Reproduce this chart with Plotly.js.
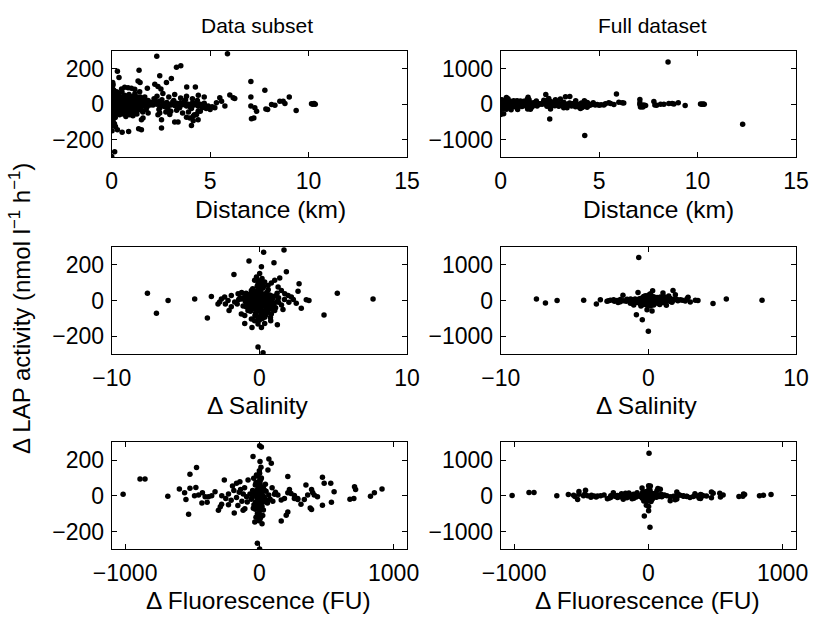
<!DOCTYPE html>
<html><head><meta charset="utf-8">
<script src="https://cdn.plot.ly/plotly-3.0.1.min.js"></script>
<style>html,body{margin:0;padding:0;background:#fff}#chart{width:813px;height:617px}</style>
</head><body><div id="chart"></div>
<script>
// [distance km, ΔLAP] - data subset
const distSubset = [
[2.29,270],[5.88,284],[3.29,208],[3.51,217],[0.29,185],[1.39,192],[2.44,160],[3.03,145],[2.78,122],[0.05,122],[0.37,150],[7.07,128],[7.78,78],[4.25,97],[3.81,97],[2.19,112],[1.81,90],[1.34,131],[1.44,122],[0.83,93],[1.0,90],[1.17,84],[0.5,85],[0.66,95],
[9.02,40],[8.54,17],[8.71,17],[8.8,4],[9.37,-36],[8.12,-2],[8.29,-6],[7.83,-27],[7.92,-30],[7.27,-21],[7.36,-40],[7.07,-11],[7.1,-82],[7.22,-78],[7.07,40],[6.17,36],[6.25,32],[6.0,51],[5.75,-11],[5.49,36],[5.58,17],[5.32,8],[5.24,-21],[10.15,2],[10.22,-1],[10.28,3],[10.34,0],
[4.14,-69],[3.97,-78],[3.8,-74],[4.31,-59],[4.39,-40],[4.05,-120],[4.14,-93],[4.39,-88],[3.37,-101],[3.2,-101],[2.53,-135],[2.53,-88],[2.44,-50],[2.95,-59],[1.85,-50],[1.51,-88],[1.59,-78],[1.51,-145],[1.37,-139],[0.86,-154],[0.53,-158],[0.19,-126],[0.29,-145],[0.05,-88],[0.15,-269],[0.0,-295],
[0.00,60],[0.05,30],[0.10,-20],[0.02,0],[0.08,-50],[0.12,45],[0.15,10],[0.20,-35],[0.25,70],[0.30,-10],[0.35,25],[0.40,-60],[0.45,40],[0.50,-5],[0.55,-30],[0.60,15],[0.65,50],[0.70,-20],[0.75,5],[0.80,-45],[0.85,30],[0.90,-10],[0.95,20],[1.00,-30],[1.05,10],[1.10,45],[1.15,-15],[1.20,25],[1.25,-40],[1.30,0],[1.35,35],[1.40,-25],[1.45,15],[1.50,-5],[1.55,20],[1.60,-10],[1.70,5],[1.80,-15],[1.90,10],
[0.03,100],[0.07,-100],[0.10,80],[0.18,-75],[0.22,-5],[0.28,15],[0.33,-40],[0.38,60],[0.42,-15],[0.48,5],[0.52,70],[0.58,-55],[0.62,-25],[0.68,35],[0.72,-70],[0.78,20],[0.82,-5],[0.88,55],[0.92,-60],[0.98,40],[1.02,-10],[1.08,-65],[1.12,15],[1.18,60],[1.22,-5],[1.28,-55],[1.32,40],[1.38,-30],[1.42,70],[1.48,-15],[1.52,30],[1.58,-45],[0.01,-30],[0.04,20],[0.06,-10],[0.09,5],[0.11,-60],[0.13,30],[0.16,-25],[0.00,-120],[0.02,-150],[0.05,-105],[0.14,-110],
[0.02,45],[0.04,-45],[0.06,75],[0.08,-70],[0.1,10],[0.12,-15],[0.17,55],[0.21,-55],[0.24,35],[0.27,-25],[0.31,50],[0.34,-5],[0.39,-35],[0.43,20],[0.47,-50],[0.51,30],[0.56,10],[0.61,-40],[0.64,-5],[0.69,15],[0.73,45],[0.77,-30],[0.81,10],[0.86,-20],[0.91,35],[0.96,-40],[1.01,25],[1.06,-20],[1.11,-45],[1.16,5],[1.21,-25],[1.26,15],[1.31,-15],[1.36,5],[1.41,-5],[1.46,40],[1.51,-35],[1.56,5],[0.0,-60],[0.03,-80],[0.0,20],[0.01,85],[0.07,110],[0.0,-20],
[1.65,25],[1.75,-30],[1.85,20],[1.95,-5],[1.68,40],
[2.0,10],[2.1,-5],[2.2,20],[2.3,0],[2.4,15],[2.5,-10],[2.6,5],[2.7,-15],[2.8,10],[2.9,0],[3.0,-5],[3.1,12],[3.2,-8],[3.3,5],[3.4,-12],[3.5,8],[3.6,-3],[3.7,15],[3.8,-10],[3.9,0],[4.0,-18],[4.1,6],[4.2,-5],[4.3,10],[4.4,-12],[4.5,0],[4.6,-20],[4.7,5],[4.8,-25],[4.9,-10],[5.0,-30],[5.1,-15],
[2.3,45],[2.6,60],[2.9,40],[3.2,55],[3.5,35],[3.8,45],[4.1,30],[4.4,50],[4.7,40],[3.0,-40],[3.3,-35],[3.6,-50],[3.9,-45],[4.2,-60],[4.5,-40],[2.4,-30],[2.75,-45],
[2.15,30],[2.45,-20],[2.55,25],[2.85,-25],[3.15,20],[3.45,-20],[3.75,25],[4.05,-25],[4.35,20],[4.65,-5],[2.35,-60],[2.5,85],[2.35,100]
];
// extra points only in the full dataset
const distExtra = [[8.5,1190],[2.49,-420],[4.27,-888],[12.29,-570]];

// [Δ salinity, ΔLAP] - data subset
const salSubset = [
[-7.58,41],[-6.97,-71],[-6.18,0],[-4.38,9],[-3.25,23],[-3.52,-98],[-1.72,145],[-0.70,220],[0.29,269],[1.67,282],[0.14,188],[0.99,210],[1.83,160],[1.38,126],[2.69,94],[2.62,51],[3.18,4],[3.36,0],[2.84,-43],[4.38,-81],[5.28,41],[7.70,9],[-0.09,-259],[0.25,-291],[-0.5,-150],[-0.99,-128],[0.14,-150],[1.22,-135],[0.77,-113],[-2.05,-56],[-2.69,-9],
[-2.8,-19],[-2.57,9],[-2.35,19],[-2.12,0],[-1.9,28],[-1.67,-9],[-1.44,38],[-1.22,9],[-0.99,23],[-0.77,0],[-0.54,56],[-0.32,113],[-0.2,131],[-0.09,94],[0.02,150],[0.18,122],[0.36,103],[0.59,84],[0.81,98],[1.04,113],[1.27,75],[1.49,56],[1.72,38],[1.95,28],[2.17,19],[2.5,-15],
[-1.22,-75],[-0.99,-84],[-0.77,-56],[-0.54,-103],[-0.32,-113],[-0.09,-131],[0.14,-84],[0.36,-94],[0.59,-66],[0.81,-75],[1.04,-56],[0.36,-128],[-0.32,-47],[0.02,-56],
[-1.5,-20],[-1.3,15],[-1.1,-30],[-0.9,40],[-0.8,-10],[-0.7,25],[-0.6,-40],[-0.5,10],[-0.4,-20],[-0.3,35],[-0.2,-5],[-0.1,60],[0,-25],[0.05,15],[0.1,-45],[0.15,40],[0.2,-10],[0.25,70],[0.3,-60],[0.35,20],[0.4,-30],[0.5,45],[0.6,-15],[0.7,30],[0.8,-35],[0.9,10],[1.0,-20],[1.1,25],[1.2,-5],[1.3,15],[1.5,-25],[1.7,5],
[-0.15,80],[0.05,-90],[-0.25,-70],[0.1,90],[0.45,-80],[-0.45,65],[0.2,-100],[-0.05,110],[0.0,0],[0.12,5],[-0.08,-15],[0.3,10],[-0.35,0],[0.6,60],[-0.6,-60],[0.9,-50],[-0.9,-35],[1.2,40],[-1.2,45],[2.0,-10],[2.3,5],[-2.3,-20],[-1.9,-35],[1.6,-50],[0.75,-95],
[-0.15,-40],[0.22,30],[-0.05,45],[0.08,-65],[0.42,5],[-0.28,20],[0.65,-5],[-0.65,5],[0.0,70],[0.18,-30],
[-0.95,-5],[-0.85,15],[-0.75,-25],[-0.65,35],[-0.55,-15],[-0.45,25],[-0.35,-45],[-0.25,15],[-0.15,-20],[-0.05,30],[0.05,-40],[0.15,-5],[0.25,25],[0.35,-15],[0.45,35],[0.55,-35],[0.65,20],[0.75,-10],[0.85,25],[0.95,-15],[-0.5,-30],[-0.2,50],[0.1,60],[0.4,-55],[-0.4,45],[0.2,-75],[-0.1,-90],[0.05,105],[0.3,80],[-0.3,-85],[0.0,-110],[-0.6,20],[0.7,-45],[1.1,-40],[-1.0,10],[1.3,-10],[-1.4,5],[0.5,10],[-0.1,10],[0.25,-25]
];
const salExtra = [[-0.65,1200],[-0.81,-400],[-0.41,-540],[0.0,-860]];

// [Δ fluorescence FU, ΔLAP] - data subset
const fluSubset = [
[-1015,8],[-889,94],[-852,94],[-682,-2],[-596,38],[-557,17],[-547,-21],[-517,121],[-468,159],[-517,42],[-527,-104],[-473,47],[-483,0],[-453,4],[-424,17],[-404,-6],[-389,-36],[-428,-40],[-330,23],[-355,0],[-379,-6],[-261,89],[-305,-81],[-291,-62],[-281,-47],[-187,-96],[-170,70],[-145,79],[-121,-81],[-108,-72],[-84,89],[-47,221],[-42,98],[-22,117],[2,281],[15,274],[5,192],[71,206],[89,183],[64,145],[2,126],[20,-157],[-34,-147],[-15,-266],[2,-298],
[163,-142],[212,108],[200,-109],[212,-91],[224,36],[236,13],[261,-15],[286,-21],[310,-47],[347,60],[389,36],[397,19],[379,-68],[389,-77],[470,104],[483,70],[532,70],[470,-53],[557,23],[537,-36],[675,-19],[704,-15],[709,51],[717,36],[828,-2],[857,17],[914,38],[409,4],[433,-6],[360,4],[335,-21],[286,-15],[261,2],[212,17],[187,-15],[163,-24],[138,4],[113,8],
[-280,0],[-250,-15],[-230,10],[-210,-25],[-190,30],[-170,-10],[-150,20],[-130,-30],[-110,45],[-95,-5],[-200,55],[-230,-50],[-160,-55],[-140,35],[-120,10],
[-60,-20],[-50,30],[-40,-50],[-30,60],[-20,-10],[-10,40],[0,-30],[10,15],[20,-60],[30,50],[40,-15],[50,25],[60,-40],[70,5],[80,-20],[-70,10],[-5,80],[5,-80],[-15,-100],[15,100],[25,-110],[-25,-120],[0,0],[8,-5],[-8,10],[12,160],[-3,-140],[30,-35],[-35,20],[45,65],[-45,-70],[100,-30],[120,20],[-90,-35],[95,45],
[-12,-60],[18,-25],[-28,-35],[6,55],[-18,25],[22,35],[0,-75],[-6,-45],[10,-120],[35,-5],
[-20,30],[-10,-20],[0,50],[10,-40],[20,20],[-5,-60],[5,70],[-15,0],[15,-15],[0,-100],[-10,110],[10,90],[-5,-120],[5,-130],[0,140],[-30,-75],[30,-80],[-25,75],[25,0],[-40,5],[40,30],[-55,-10],[55,-25],[0,25],[0,-55]
];
const fluExtra = [[5,1190],[-30,-565],[12,-885],[2,-420]];

const xs = a => a.map(p => p[0]);
const ys = a => a.map(p => p[1]);
const FONT = 'Liberation Sans, Arial, Helvetica, sans-serif';
const mk = {color: '#000', size: 5.5};

function tr(arr, xa, ya) {
  return {type: 'scatter', mode: 'markers', x: xs(arr), y: ys(arr), xaxis: xa, yaxis: ya, marker: mk, hoverinfo: 'skip', showlegend: false};
}
const data = [
  tr(distSubset, 'x', 'y'),
  tr(distSubset.concat(distExtra), 'x2', 'y2'),
  tr(salSubset, 'x3', 'y3'),
  tr(salSubset.concat(salExtra), 'x4', 'y4'),
  tr(fluSubset, 'x5', 'y5'),
  tr(fluSubset.concat(fluExtra), 'x6', 'y6')
];

function ax(domain, range, tickvals, anchor, standoff) {
  return {domain, range, tickvals, anchor, showline: true, mirror: 'ticks', ticks: 'inside', ticklen: 5, tickwidth: 1,
    tickcolor: '#000', linecolor: '#000', linewidth: 1, showgrid: false, zeroline: false, fixedrange: true,
    ticklabelstandoff: standoff, tickfont: {family: FONT, size: 23, color: '#000'}};
}
const W = 813, H = 617;
const cx = [[111.7, 407], [500.7, 796]];
const ry = [[51, 157.3], [246.7, 354.3], [442.3, 549.3]];
const dx = c => [cx[c][0] / W, cx[c][1] / W];
const dy = r => [1 - ry[r][1] / H, 1 - ry[r][0] / H];

const layout = {
  width: W, height: H, margin: {l: 0, r: 0, t: 0, b: 0}, paper_bgcolor: '#fff', plot_bgcolor: '#fff',
  font: {family: FONT, color: '#000'},
  xaxis: ax(dx(0), [0, 15], [0, 5, 10, 15], 'y', 3),
  yaxis: ax(dy(0), [-300, 300], [-200, 0, 200], 'x', 2),
  xaxis2: ax(dx(1), [0, 15], [0, 5, 10, 15], 'y2', 3),
  yaxis2: ax(dy(0), [-1500, 1500], [-1000, 0, 1000], 'x2', 2),
  xaxis3: ax(dx(0), [-10, 10], [-10, 0, 10], 'y3', 3),
  yaxis3: ax(dy(1), [-300, 300], [-200, 0, 200], 'x3', 2),
  xaxis4: ax(dx(1), [-10, 10], [-10, 0, 10], 'y4', 3),
  yaxis4: ax(dy(1), [-1500, 1500], [-1000, 0, 1000], 'x4', 2),
  xaxis5: ax(dx(0), [-1100, 1100], [-1000, 0, 1000], 'y5', 3),
  yaxis5: ax(dy(2), [-300, 300], [-200, 0, 200], 'x5', 2),
  xaxis6: ax(dx(1), [-1100, 1100], [-1000, 0, 1000], 'y6', 3),
  yaxis6: ax(dy(2), [-1500, 1500], [-1000, 0, 1000], 'x6', 2),
  annotations: []
};
function ann(text, xpx, ypx, size, angle) {
  return {text, x: xpx / W, y: 1 - ypx / H, xref: 'paper', yref: 'paper', showarrow: false,
    xanchor: 'center', yanchor: 'middle', textangle: angle || 0, font: {family: FONT, size, color: '#000'}};
}
layout.annotations.push(ann('Data subset', 257, 25, 21));
layout.annotations.push(ann('Full dataset', 652, 25, 21));
layout.annotations.push(ann('Distance (km)', 270, 209, 24.5));
layout.annotations.push(ann('Distance (km)', 658, 209, 24.5));
layout.annotations.push(ann('Δ Salinity', 258, 405, 24.5));
layout.annotations.push(ann('Δ Salinity', 647, 405, 24.5));
layout.annotations.push(ann('Δ Fluorescence (FU)', 258, 600, 24.5));
layout.annotations.push(ann('Δ Fluorescence (FU)', 647, 600, 24.5));
layout.annotations.push(ann('Δ LAP activity (nmol l<sup>−1</sup> h<sup>−1</sup>)', 20, 309, 24, -90));

Plotly.newPlot('chart', data, layout, {displayModeBar: false, staticPlot: true});
</script></body></html>
